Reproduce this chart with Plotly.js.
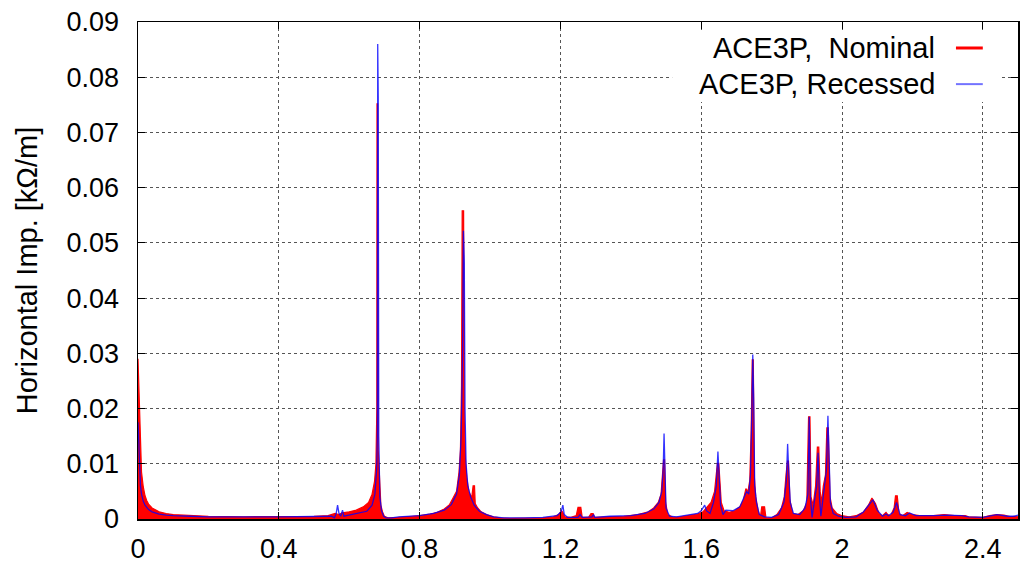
<!DOCTYPE html>
<html>
<head>
<meta charset="utf-8">
<script src="https://cdn.plot.ly/plotly-3.0.1.min.js"></script>
<style>html,body{margin:0;padding:0;background:#fff;}#chart{width:1022px;height:563px;}</style>
</head>
<body>
<div id="chart"></div>
<script>
// ACE3P, Nominal (frequency, horizontal impedance kOhm/m)
var freqNominal = [0.000,0.003,0.006,0.010,0.015,0.020,0.025,0.030,0.040,0.050,0.060,0.080,0.100,0.130,0.160,0.200,0.300,0.400,0.500,0.540,0.560,0.570,0.580,0.600,0.620,0.640,0.655,0.665,0.672,0.676,0.6785,0.679,0.681,0.6825,0.686,0.690,0.695,0.700,0.710,0.720,0.740,0.780,0.800,0.830,0.850,0.870,0.885,0.895,0.905,0.912,0.916,0.919,0.921,0.925,0.927,0.930,0.934,0.940,0.948,0.952,0.956,0.958,0.965,0.975,0.990,1.010,1.030,1.060,1.100,1.150,1.180,1.195,1.203,1.207,1.212,1.230,1.245,1.250,1.258,1.262,1.280,1.287,1.293,1.297,1.330,1.380,1.420,1.450,1.465,1.478,1.486,1.490,1.493,1.496,1.499,1.505,1.520,1.540,1.570,1.590,1.605,1.615,1.628,1.638,1.643,1.646,1.650,1.653,1.657,1.665,1.680,1.695,1.710,1.720,1.727,1.733,1.738,1.742,1.745,1.748,1.751,1.755,1.762,1.768,1.772,1.780,1.784,1.800,1.815,1.828,1.836,1.841,1.845,1.848,1.852,1.860,1.875,1.890,1.900,1.905,1.909,1.912,1.918,1.925,1.930,1.934,1.938,1.942,1.947,1.953,1.957,1.961,1.963,1.966,1.972,1.985,2.000,2.020,2.040,2.060,2.075,2.085,2.095,2.105,2.115,2.125,2.130,2.138,2.148,2.152,2.157,2.162,2.172,2.185,2.200,2.220,2.260,2.290,2.320,2.350,2.360,2.380,2.400,2.420,2.440,2.460,2.480,2.490,2.500];
var impNominal = [0.0290,0.0220,0.0140,0.0085,0.0058,0.0042,0.0033,0.0027,0.0020,0.0016,0.0013,0.0010,0.0008,0.0007,0.0006,0.0005,0.0004,0.0004,0.0005,0.0006,0.0010,0.0008,0.0011,0.0013,0.0016,0.0022,0.0030,0.0045,0.0068,0.0100,0.0200,0.0752,0.0752,0.0125,0.0060,0.0025,0.0012,0.0005,0.0002,0.0002,0.0003,0.0005,0.0006,0.0009,0.0012,0.0018,0.0026,0.0038,0.0050,0.0085,0.0125,0.0240,0.0558,0.0558,0.0180,0.0110,0.0075,0.0050,0.0038,0.0060,0.0060,0.0028,0.0020,0.0013,0.0008,0.0004,0.0002,0.0001,0.0001,0.0002,0.0004,0.0008,0.0015,0.0012,0.0004,0.0003,0.0006,0.0021,0.0021,0.0003,0.0003,0.0010,0.0010,0.0003,0.0004,0.0005,0.0008,0.0013,0.0020,0.0030,0.0045,0.0075,0.0107,0.0107,0.0030,0.0008,0.0003,0.0004,0.0007,0.0009,0.0013,0.0020,0.0030,0.0050,0.0080,0.0101,0.0101,0.0060,0.0030,0.0015,0.0012,0.0015,0.0022,0.0035,0.0055,0.0050,0.0070,0.0160,0.0288,0.0288,0.0076,0.0040,0.0015,0.0003,0.0022,0.0022,0.0002,0.0002,0.0008,0.0020,0.0040,0.0080,0.0105,0.0105,0.0035,0.0010,0.0008,0.0015,0.0030,0.0185,0.0185,0.0040,0.0025,0.0060,0.0130,0.0130,0.0050,0.0030,0.0060,0.0080,0.0165,0.0165,0.0110,0.0040,0.0020,0.0010,0.0006,0.0004,0.0006,0.0012,0.0025,0.0038,0.0028,0.0010,0.0006,0.0012,0.0008,0.0006,0.0020,0.0042,0.0042,0.0010,0.0006,0.0012,0.0008,0.0006,0.0006,0.0008,0.0006,0.0006,0.0004,0.0003,0.0003,0.0006,0.0008,0.0007,0.0004,0.0005,0.0004];

// ACE3P, Recessed
var freqRecessed = [0.000,0.002,0.004,0.007,0.010,0.015,0.020,0.030,0.040,0.060,0.080,0.100,0.150,0.200,0.400,0.500,0.550,0.558,0.563,0.567,0.571,0.576,0.581,0.585,0.600,0.630,0.650,0.665,0.673,0.678,0.680,0.681,0.6825,0.684,0.687,0.692,0.698,0.705,0.720,0.740,0.800,0.840,0.870,0.890,0.905,0.913,0.918,0.922,0.9245,0.927,0.929,0.932,0.937,0.945,0.955,0.970,0.990,1.010,1.040,1.100,1.150,1.190,1.202,1.207,1.211,1.220,1.250,1.256,1.262,1.290,1.294,1.298,1.340,1.400,1.440,1.465,1.480,1.488,1.492,1.4945,1.497,1.500,1.510,1.530,1.560,1.590,1.600,1.610,1.615,1.625,1.635,1.643,1.6475,1.651,1.655,1.662,1.670,1.690,1.710,1.722,1.729,1.735,1.740,1.744,1.7465,1.749,1.752,1.757,1.765,1.780,1.800,1.820,1.835,1.842,1.8455,1.849,1.853,1.862,1.880,1.895,1.903,1.907,1.910,1.915,1.922,1.928,1.932,1.936,1.940,1.945,1.950,1.956,1.960,1.963,1.967,1.975,1.990,2.010,2.040,2.060,2.075,2.088,2.100,2.115,2.125,2.132,2.145,2.155,2.165,2.180,2.192,2.210,2.260,2.300,2.340,2.360,2.400,2.420,2.440,2.470,2.490,2.500];
var impRecessed = [0.0175,0.0140,0.0090,0.0060,0.0045,0.0032,0.0025,0.0017,0.0013,0.0009,0.0007,0.0006,0.0005,0.0004,0.0004,0.0004,0.0005,0.0002,0.0010,0.0025,0.0010,0.0005,0.0016,0.0005,0.0007,0.0010,0.0014,0.0025,0.0045,0.0090,0.0150,0.0860,0.0765,0.0150,0.0040,0.0015,0.0005,0.0002,0.0002,0.0004,0.0006,0.0010,0.0016,0.0026,0.0045,0.0080,0.0150,0.0300,0.0522,0.0464,0.0200,0.0100,0.0060,0.0040,0.0025,0.0014,0.0008,0.0004,0.0002,0.0002,0.0003,0.0006,0.0013,0.0025,0.0008,0.0003,0.0003,0.0008,0.0003,0.0004,0.0008,0.0003,0.0005,0.0006,0.0010,0.0018,0.0030,0.0050,0.0090,0.0155,0.0060,0.0020,0.0005,0.0004,0.0007,0.0010,0.0015,0.0025,0.0015,0.0010,0.0030,0.0060,0.0122,0.0070,0.0025,0.0008,0.0016,0.0015,0.0022,0.0040,0.0050,0.0045,0.0080,0.0200,0.0298,0.0220,0.0060,0.0030,0.0008,0.0004,0.0003,0.0008,0.0030,0.0070,0.0136,0.0080,0.0030,0.0010,0.0008,0.0020,0.0045,0.0185,0.0040,0.0003,0.0030,0.0060,0.0120,0.0040,0.0005,0.0030,0.0050,0.0090,0.0187,0.0090,0.0030,0.0010,0.0005,0.0003,0.0004,0.0012,0.0024,0.0035,0.0016,0.0005,0.0009,0.0006,0.0012,0.0030,0.0008,0.0006,0.0011,0.0006,0.0006,0.0007,0.0006,0.0004,0.0003,0.0006,0.0008,0.0005,0.0005,0.0007];

var xTickVals = [0, 0.4, 0.8, 1.2, 1.6, 2.0, 2.4];
var xTickText = ["0", "0.4", "0.8", "1.2", "1.6", "2", "2.4"];
var yTickVals = [0, 0.01, 0.02, 0.03, 0.04, 0.05, 0.06, 0.07, 0.08, 0.09];
var yTickText = ["0", "0.01", "0.02", "0.03", "0.04", "0.05", "0.06", "0.07", "0.08", "0.09"];
var seriesNames = ["ACE3P,\u00A0 Nominal", "ACE3P, Recessed"];

var FONT = "Liberation Sans, Arial, Helvetica, sans-serif";

var traces = [
  {x: freqNominal, y: impNominal, type: "scatter", mode: "lines", name: seriesNames[0],
   line: {color: "#ff0000", width: 1.2}, fill: "tozeroy", fillcolor: "#ff0000", showlegend: false},
  {x: freqRecessed, y: impRecessed, type: "scatter", mode: "lines", name: seriesNames[1],
   line: {color: "rgba(0,0,255,0.8)", width: 1.3}, showlegend: false}
];

var axisCommon = {
  showline: true, mirror: "ticks", linecolor: "#000", linewidth: 1.5,
  ticks: "inside", ticklen: 7, tickwidth: 1, tickcolor: "#000",
  showgrid: true, gridcolor: "#555", gridwidth: 1, griddash: "dot",
  zeroline: false, tickfont: {family: FONT, size: 27, color: "#000"}
};

var layout = {
  width: 1022, height: 563,
  margin: {l: 138, r: 4, t: 22, b: 44},
  paper_bgcolor: "#fff", plot_bgcolor: "#fff",
  showlegend: false,
  xaxis: Object.assign({}, axisCommon, {
    range: [0, 2.5], tickmode: "array", tickvals: xTickVals, ticktext: xTickText,
    ticklabelstandoff: 5
  }),
  yaxis: Object.assign({}, axisCommon, {
    range: [0, 0.09], tickmode: "array", tickvals: yTickVals, ticktext: yTickText,
    ticklabelstandoff: 12,
    title: {text: "Horizontal Imp. [k\u03A9/m]", font: {family: FONT, size: 29, color: "#000"}, standoff: 20}
  }),
  shapes: [
    {type: "rect", xref: "paper", yref: "paper", x0: 0.607, x1: 0.98, y0: 0.839, y1: 0.984,
     fillcolor: "#fff", line: {width: 0}, layer: "above"},
    {type: "line", xref: "paper", yref: "paper", x0: 0.9295, x1: 0.960, y0: 0.9477, y1: 0.9477,
     line: {color: "#ff0000", width: 3}},
    {type: "line", xref: "paper", yref: "paper", x0: 0.9295, x1: 0.960, y0: 0.875, y1: 0.875,
     line: {color: "rgba(0,0,255,0.55)", width: 2}}
  ],
  annotations: [
    {xref: "paper", yref: "paper", x: 0.908, y: 0.9477, xanchor: "right", yanchor: "middle",
     text: seriesNames[0], showarrow: false, font: {family: FONT, size: 29, color: "#000"}},
    {xref: "paper", yref: "paper", x: 0.908, y: 0.875, xanchor: "right", yanchor: "middle",
     text: seriesNames[1], showarrow: false, font: {family: FONT, size: 29, color: "#000"}}
  ]
};

Plotly.newPlot("chart", traces, layout, {staticPlot: true, displayModeBar: false});
</script>
</body>
</html>
